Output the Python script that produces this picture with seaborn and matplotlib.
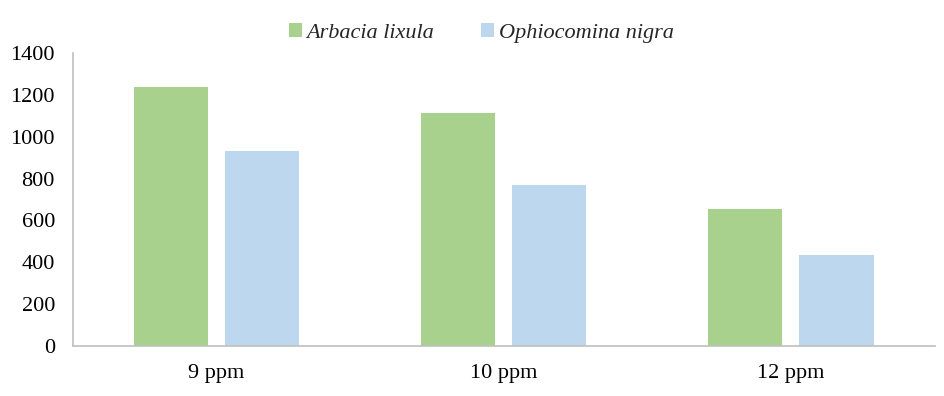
import pandas as pd
import matplotlib
matplotlib.use("Agg")
import matplotlib.pyplot as plt
import seaborn as sns

# Values
concentrations = ['9 ppm', '10 ppm', '12 ppm']
arbacia = [1237, 1113, 655]
ophiocomina = [932, 769, 435]
species = ['Arbacia lixula', 'Ophiocomina nigra']

df = pd.DataFrame({
    'conc': concentrations * 2,
    'value': arbacia + ophiocomina,
    'species': [species[0]] * 3 + [species[1]] * 3,
})

sns.set_style("white")
plt.rcParams['font.family'] = ['Liberation Serif', 'DejaVu Serif']

fig = plt.figure(figsize=(9.44, 3.96), dpi=100)
ax = fig.add_axes([0.0773, 0.1263, 0.9127, 0.7397])

sns.barplot(data=df, x='conc', y='value', hue='species', ax=ax,
            palette=['#A9D18E', '#BDD7EE'], width=0.634, gap=0.186,
            saturation=1, errorbar=None, linewidth=0)

ax.set_ylim(0, 1400)
ax.set_yticks(range(0, 1401, 200))
ax.set_xlim(-0.5, 2.5)
ax.set_xlabel('')
ax.set_ylabel('')
ax.tick_params(axis='both', labelsize=16, length=0, colors='black')
ax.tick_params(axis='x', pad=13)
ax.tick_params(axis='y', pad=13)
for s in ['top', 'right']:
    ax.spines[s].set_visible(False)
for s in ['left', 'bottom']:
    ax.spines[s].set_color('#BFBFBF')
    ax.spines[s].set_linewidth(1.2)

ax.legend(loc='center', bbox_to_anchor=(0.474, 1.068), ncol=2,
          frameon=False, prop={'style': 'italic', 'size': 16},
          handlelength=0.6, handleheight=0.6, handletextpad=0.2,
          columnspacing=2.1)

fig.savefig('out.png', dpi=100)
